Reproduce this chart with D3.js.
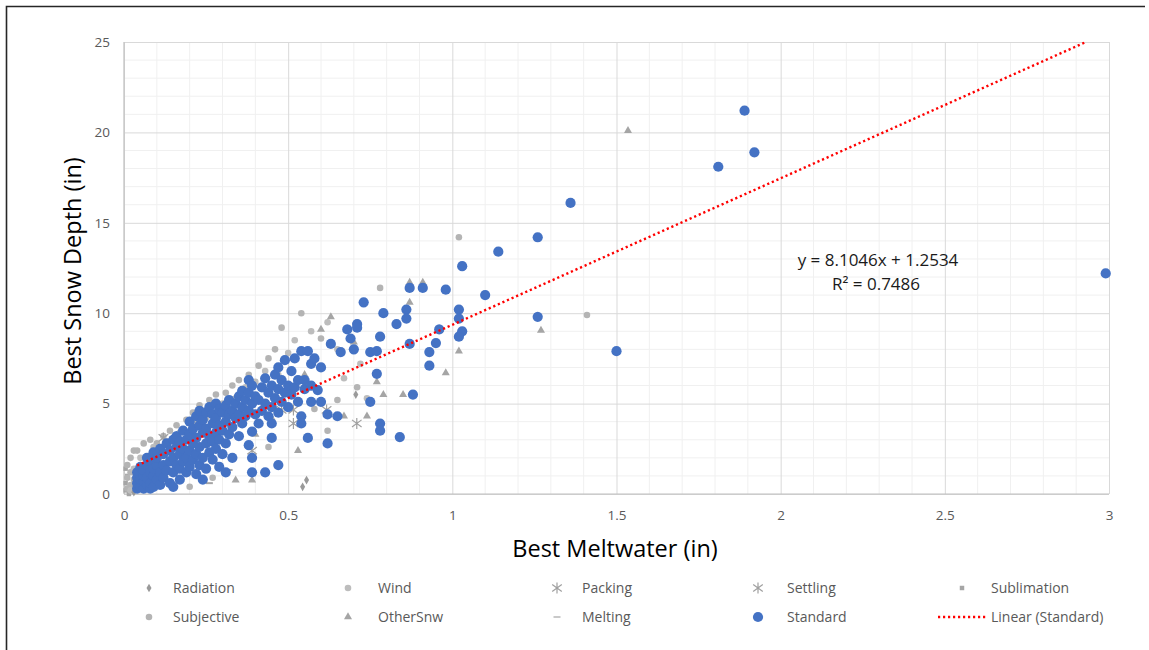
<!DOCTYPE html>
<html>
<head>
<meta charset="utf-8">
<script src="https://cdn.jsdelivr.net/npm/d3@7"></script>
<style>
  html, body { margin: 0; padding: 0; background: #fff; }
  svg { display: block; }
  text { font-family: "Open Sans", "Noto Sans", sans-serif; }
</style>
</head>
<body>
<svg id="chart" width="1149" height="650"></svg>
<script>
// ---- data: [meltwater (in), snow depth (in)] per observation type ----
const standard = [
  [0.04,0.3],[0.04,0.6],[0.04,0.9],[0.04,1.2],[0.05,0.4],[0.05,0.8],[0.05,1.5],[0.06,0.3],[0.06,0.7],[0.06,1.0],
  [0.06,1.3],[0.07,0.5],[0.07,0.9],[0.07,1.6],[0.07,2.0],[0.08,0.3],[0.08,0.6],[0.08,1.2],[0.08,1.8],[0.09,0.4],
  [0.09,1.0],[0.09,1.4],[0.09,2.3],[0.10,0.8],[0.10,1.6],[0.10,2.0],[0.11,0.5],[0.11,1.2],[0.11,2.5],
  [0.12,0.9],[0.12,1.6],[0.12,2.2],[0.13,1.3],[0.13,2.8],[0.14,0.6],[0.14,1.8],[0.14,2.4],[0.15,0.4],[0.15,1.2],
  [0.15,2.0],[0.15,3.0],[0.16,1.6],[0.16,2.6],[0.16,3.2],[0.17,0.8],[0.17,1.4],[0.17,2.2],[0.17,2.9],[0.18,1.8],
  [0.18,3.5],[0.18,2.5],[0.19,1.2],[0.19,2.0],[0.19,3.0],[0.20,1.5],[0.20,2.4],[0.20,3.3],[0.20,4.0],
  [0.21,1.9],[0.21,2.8],[0.21,3.6],[0.22,1.1],[0.22,2.2],[0.22,3.1],[0.22,4.3],[0.23,1.6],[0.23,2.6],[0.23,3.8],
  [0.23,4.6],[0.24,0.8],[0.24,2.0],[0.24,3.4],[0.24,4.1],[0.25,1.4],[0.25,2.8],[0.25,3.6],[0.25,4.5],[0.26,2.3],
  [0.26,3.2],[0.26,4.8],[0.27,1.9],[0.27,2.9],[0.27,3.9],[0.27,4.4],[0.28,2.5],[0.28,3.4],[0.28,4.2],[0.28,5.0],
  [0.29,1.5],[0.29,3.0],[0.29,3.8],[0.29,4.7],[0.30,2.2],[0.30,3.5],[0.30,4.5],
  [0.31,1.2],[0.31,2.8],[0.31,4.0],[0.31,4.9],[0.32,3.3],[0.32,4.4],[0.32,5.2],[0.33,2.0],[0.33,3.7],[0.33,4.6],
  [0.34,4.2],[0.34,5.0],[0.35,3.2],[0.35,4.4],[0.35,5.4],[0.36,3.9],[0.36,4.8],[0.36,5.7],[0.37,4.3],[0.37,5.2],
  [0.38,2.7],[0.38,4.6],[0.38,5.6],[0.38,6.3],[0.39,1.2],[0.39,2.0],[0.39,3.45],[0.39,5.0],[0.39,6.0],[0.40,4.4],[0.40,5.4],
  [0.41,3.9],[0.41,5.2],[0.42,4.6],[0.42,5.9],[0.43,1.2],[0.43,5.0],[0.43,6.4],[0.44,4.3],[0.44,5.6],[0.45,3.1],
  [0.45,3.9],[0.45,4.8],[0.45,6.0],[0.46,5.3],[0.46,6.6],[0.47,1.6],[0.47,4.5],[0.47,5.8],[0.47,7.0],[0.48,5.1],
  [0.48,6.3],[0.49,5.6],[0.49,7.4],[0.50,4.8],[0.50,6.0],
  [0.51,5.5],[0.51,6.8],[0.52,5.9],[0.52,7.5],[0.53,6.3],[0.53,5.1],[0.54,4.3],[0.54,3.9],[0.54,7.9],[0.55,5.8],
  [0.55,6.3],[0.56,3.1],[0.56,7.9],[0.57,5.1],[0.57,6.0],[0.57,7.2],[0.58,7.5],[0.59,5.75],[0.60,5.1],[0.60,7.0],
  [0.62,2.8],[0.62,4.4],[0.63,8.3],[0.65,4.3],[0.66,7.85],[0.68,9.1],[0.69,8.6],[0.70,8.0],[0.71,9.4],[0.71,9.2],
  [0.73,10.6],[0.75,5.1],[0.75,7.85],[0.77,6.65],[0.77,7.9],[0.78,8.7],[0.78,3.9],[0.78,3.5],[0.79,10.0],
  [0.83,9.4],[0.84,3.15],[0.86,10.2],[0.86,9.7],[0.87,11.4],[0.87,8.3],[0.88,5.5],[0.91,11.4],[0.93,7.1],
  [0.93,7.85],[0.95,8.35],[0.96,9.1],[0.98,11.3],[1.02,10.2],[1.02,9.7],[1.03,9.0],[1.02,8.7],[1.03,12.6],
  [1.10,11.0],[1.14,13.4],[1.26,14.2],[1.26,9.8],[1.36,16.1],[1.50,7.9],[1.81,18.1],[1.89,21.2],[1.92,18.9],[2.99,12.2]
];
const subjective = [
  [0.01,0.3],[0.01,0.9],[0.01,1.6],[0.02,0.5],[0.02,1.2],[0.02,2.0],[0.03,0.8],[0.03,2.4],[0.04,2.4],[0.06,2.8],
  [0.08,3.0],[0.10,2.8],[0.12,3.2],[0.14,3.5],[0.16,3.8],[0.19,4.1],[0.21,4.5],[0.23,4.9],[0.26,5.2],[0.28,5.5],
  [0.31,5.6],[0.33,6.0],[0.35,6.3],[0.38,6.6],[0.41,7.1],[0.44,7.5],[0.46,8.0],[0.48,9.2],[0.54,10.0],[0.60,8.6],
  [0.62,3.5],[0.71,5.9],[0.78,11.4],[1.02,14.2],[1.41,9.9],[0.20,0.4],[0.27,0.9],[0.44,2.6],[0.58,4.7],[0.65,5.2]
];
const wind = [
  [0.02,0.2],[0.03,1.4],[0.05,2.0],[0.09,2.6],[0.13,2.9],[0.17,3.4],[0.22,4.0],[0.25,4.2],[0.30,5.0],[0.34,5.3],
  [0.37,5.9],[0.40,6.2],[0.43,6.8],[0.50,7.8],[0.52,8.5],[0.57,9.0],[0.65,8.0],[0.67,6.4],[0.72,7.2],[0.74,5.3],
  [0.62,9.5],[0.47,6.6]
];
const otherSnw = [
  [1.535,20.1],[1.27,9.05],[1.02,7.9],[0.98,6.7],[0.87,11.7],[0.91,11.7],[0.87,10.6],[0.63,9.8],[0.60,9.1],[0.79,5.5],
  [0.85,5.5],[0.74,4.3],[0.67,4.3],[0.53,2.4],[0.34,0.77],[0.39,0.77],[0.77,6.2],[0.40,3.3],[0.25,2.2],[0.15,1.8],
  [0.45,4.2],[0.55,6.6],[0.70,8.4]
];
const radiation = [[0.556,0.77],[0.544,0.4],[0.706,5.5],[0.03,0.1]];
const packing = [[0.48,4.65],[0.516,4.65],[0.617,4.65],[0.39,2.4]];
const settling = [[0.516,3.9],[0.709,3.9],[0.12,3.1]];
const sublimation = [[0.005,0.2],[0.005,0.6],[0.01,1.0],[0.005,1.4],[0.015,0.0]];
const melting = [[0.2,1.33],[0.32,1.33],[0.145,0.44],[0.26,0.6]];

// linear fit of the Standard series
const slope = 8.1046, intercept = 1.2534, r2 = 0.7486;

const xTicks = [0, 0.5, 1, 1.5, 2, 2.5, 3];
const yTicks = [0, 5, 10, 15, 20, 25];
const xTickLabels = ["0", "0.5", "1", "1.5", "2", "2.5", "3"];
const yTickLabels = ["0", "5", "10", "15", "20", "25"];

const legendRow1 = ["Radiation", "Wind", "Packing", "Settling", "Sublimation"];
const legendRow2 = ["Subjective", "OtherSnw", "Melting", "Standard", "Linear (Standard)"];

// ---- layout ----
const svg = d3.select("#chart");
const pL = 124, pR = 1109, pT = 42, pB = 494;
const x = d3.scaleLinear().domain([0, 3]).range([pL, pR]);
const y = d3.scaleLinear().domain([0, 25]).range([pB, pT]);

const GRAY = "#a5a5a5";
const BLUE = "#4472c4";

// outer frame (top and left edges)
svg.append("path").attr("d", "M6.5,650 L6.5,6.5 L1145,6.5")
  .attr("fill", "none").attr("stroke", "#262626").attr("stroke-width", 1.6);

// minor grid
const grid = svg.append("g");
grid.selectAll("line.mx").data(d3.range(1, 30).filter(v => v % 5 !== 0).map(v => v / 10))
  .join("line").attr("class", "mx").attr("x1", d => x(d)).attr("x2", d => x(d)).attr("y1", pT).attr("y2", pB)
  .attr("stroke", "#f0f0f0").attr("stroke-width", 1);
grid.selectAll("line.my").data(d3.range(1, 25).filter(v => v % 5 !== 0))
  .join("line").attr("class", "my").attr("y1", d => y(d)).attr("y2", d => y(d)).attr("x1", pL).attr("x2", pR)
  .attr("stroke", "#f0f0f0").attr("stroke-width", 1);

// major grid via axes
const xAxisGrid = d3.axisBottom(x).tickValues(xTicks).tickSize(-(pB - pT)).tickFormat("");
const yAxisGrid = d3.axisLeft(y).tickValues(yTicks).tickSize(-(pR - pL)).tickFormat("");
svg.append("g").attr("transform", `translate(0,${pB})`).call(xAxisGrid)
  .call(g => g.select(".domain").remove())
  .call(g => g.selectAll("line").attr("stroke", "#d9d9d9"));
svg.append("g").attr("transform", `translate(${pL},0)`).call(yAxisGrid)
  .call(g => g.select(".domain").remove())
  .call(g => g.selectAll("line").attr("stroke", "#d9d9d9"));

// axis lines
svg.append("line").attr("x1", pL).attr("x2", pL).attr("y1", pT).attr("y2", pB)
  .attr("stroke", "#bfbfbf").attr("stroke-width", 1.2);
svg.append("line").attr("x1", pL).attr("x2", pR).attr("y1", pB).attr("y2", pB)
  .attr("stroke", "#bfbfbf").attr("stroke-width", 1.2);

// tick labels
const xAxis = d3.axisBottom(x).tickValues(xTicks).tickSize(0).tickPadding(16)
  .tickFormat((d, i) => xTickLabels[i]);
svg.append("g").attr("transform", `translate(0,${pB})`).call(xAxis)
  .call(g => g.select(".domain").remove())
  .call(g => g.selectAll("text").attr("fill", "#595959").style("font-size", "13.5px")
    .style("font-family", "'Open Sans', sans-serif"));
const yAxis = d3.axisLeft(y).tickValues(yTicks).tickSize(0).tickPadding(14)
  .tickFormat((d, i) => yTickLabels[i]);
svg.append("g").attr("transform", `translate(${pL},0)`).call(yAxis)
  .call(g => g.select(".domain").remove())
  .call(g => g.selectAll("text").attr("fill", "#595959").style("font-size", "13.5px")
    .style("font-family", "'Open Sans', sans-serif"));

// axis titles
svg.append("text").attr("x", 615).attr("y", 557).attr("text-anchor", "middle")
  .style("font-size", "23.5px").attr("fill", "#000").text("Best Meltwater (in)");
svg.append("text").attr("transform", "translate(81,271) rotate(-90)").attr("text-anchor", "middle")
  .style("font-size", "23.5px").attr("fill", "#000").text("Best Snow Depth (in)");

// marker shapes
const sym = {
  diamond: d3.symbol().type(d3.symbolDiamond).size(22)(),
  circleSmall: d3.symbol().type(d3.symbolCircle).size(34)(),
  triangle: d3.symbol().type(d3.symbolTriangle).size(28)(),
  square: d3.symbol().type(d3.symbolSquare).size(20)(),
  circleBig: d3.symbol().type(d3.symbolCircle).size(82)()
};
const asterisk = "M0,-5.5L0,5.5M-4.8,-3.6L4.8,3.6M-4.8,3.6L4.8,-3.6";
const dash = "M-3.5,0L3.5,0";

const plot = svg.append("g");
function drawSeries(data, path, opts) {
  plot.append("g").selectAll("path").data(data).join("path")
    .attr("transform", d => `translate(${x(d[0])},${y(d[1])})`)
    .attr("d", path)
    .attr("fill", opts.fill || "none")
    .attr("stroke", opts.stroke || "none")
    .attr("stroke-width", opts.sw || 0);
}
drawSeries(sublimation, sym.square, { fill: GRAY });
drawSeries(subjective, sym.circleSmall, { fill: "#b4b4b4" });
drawSeries(wind, sym.circleSmall, { fill: "#bdbdbd" });
drawSeries(otherSnw, sym.triangle, { fill: "#a5a5a5" });
drawSeries(radiation, sym.diamond, { fill: "#9a9a9a" });
drawSeries(packing, asterisk, { stroke: "#a0a0a0", sw: 1.2 });
drawSeries(settling, asterisk, { stroke: "#a0a0a0", sw: 1.2 });
drawSeries(melting, dash, { stroke: "#a5a5a5", sw: 2 });
drawSeries(standard, sym.circleBig, { fill: BLUE });

// trendline for Standard, clipped to plot area
const xMin = d3.min(standard, d => d[0]);
const xTop = (25 - intercept) / slope;
svg.append("line")
  .attr("x1", x(xMin)).attr("y1", y(slope * xMin + intercept))
  .attr("x2", x(xTop)).attr("y2", y(25))
  .attr("stroke", "#ff0000").attr("stroke-width", 2.4)
  .attr("stroke-dasharray", "2.2,2.8");

// equation label
svg.append("text").attr("x", 878).attr("y", 266).attr("text-anchor", "middle")
  .style("font-size", "17px").attr("fill", "#1a1a1a").text(`y = ${slope}x + ${intercept}`);
svg.append("text").attr("x", 876).attr("y", 290).attr("text-anchor", "middle")
  .style("font-size", "17px").attr("fill", "#1a1a1a").text(`R² = ${r2}`);

// legend
const colMarkX = [149, 348, 557, 758, 962];
const colTextX = [173, 378, 582, 787, 991];
const rowY = [588, 617];
const leg = svg.append("g").style("font-size", "14px").attr("fill", "#595959");
const row1Marks = [
  { p: sym.diamond, fill: "#9a9a9a" }, { p: sym.circleSmall, fill: "#bdbdbd" },
  { p: asterisk, stroke: "#a0a0a0" }, { p: asterisk, stroke: "#a0a0a0" }, { p: sym.square, fill: GRAY }
];
const row2Marks = [
  { p: sym.circleSmall, fill: "#b4b4b4" }, { p: sym.triangle, fill: "#a5a5a5" },
  { p: dash, stroke: "#a5a5a5" }, { p: sym.circleBig, fill: BLUE }, null
];
[row1Marks, row2Marks].forEach((marks, r) => {
  marks.forEach((m, i) => {
    if (!m) return;
    leg.append("path").attr("transform", `translate(${colMarkX[i]},${rowY[r]})`)
      .attr("d", m.p).attr("fill", m.fill || "none")
      .attr("stroke", m.stroke || "none").attr("stroke-width", m.stroke ? 1.2 : 0);
  });
});
leg.append("line").attr("x1", 938).attr("x2", 986).attr("y1", rowY[1]).attr("y2", rowY[1])
  .attr("stroke", "#ff0000").attr("stroke-width", 2.4).attr("stroke-dasharray", "2.2,2.8");
[legendRow1, legendRow2].forEach((labels, r) => {
  labels.forEach((t, i) => {
    leg.append("text").attr("x", colTextX[i]).attr("y", rowY[r]).attr("dy", "0.35em").text(t);
  });
});
</script>
</body>
</html>
